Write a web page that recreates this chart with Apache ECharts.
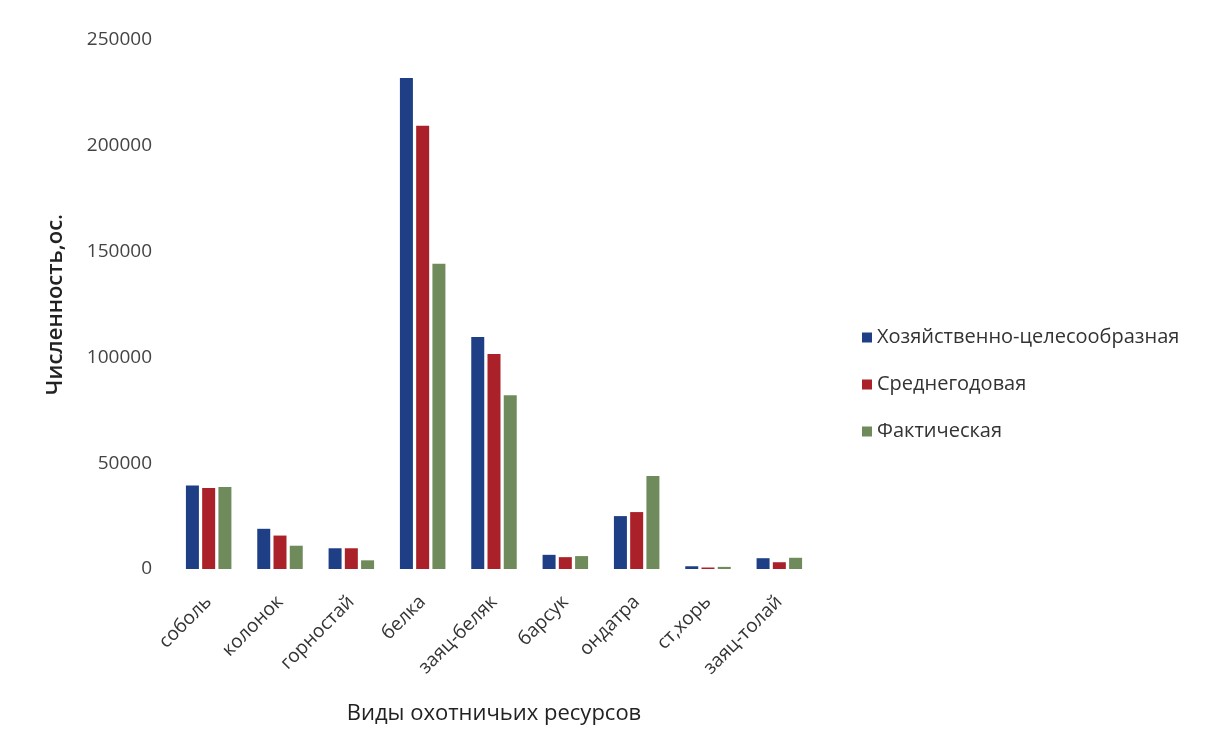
<!DOCTYPE html>
<html>
<head>
<meta charset="utf-8">
<script src="https://cdn.jsdelivr.net/npm/echarts@6/dist/echarts.min.js"></script>
<style>
  html, body { margin: 0; padding: 0; background: #ffffff; }
  #chart { width: 1228px; height: 729px; }
</style>
</head>
<body>
<div id="chart"></div>
<script>
// Виды охотничьих ресурсов и их численность (особей)
const categories = ['соболь', 'колонок', 'горностай', 'белка', 'заяц-беляк', 'барсук', 'ондатра', 'ст,хорь', 'заяц-толай'];
const seriesNames = ['Хозяйственно-целесообразная', 'Среднегодовая', 'Фактическая'];
const valuesTarget = [39500, 19000, 9800, 232000, 109600, 6700, 25000, 1300, 5100];
const valuesAverage = [38300, 15800, 9800, 209500, 101600, 5600, 26900, 700, 3200];
const valuesActual = [38700, 11000, 4100, 144300, 82100, 6100, 44000, 1000, 5300];
const yTicks = [0, 50000, 100000, 150000, 200000, 250000];

const colors = ['#1e3f86', '#ab2129', '#6f8b5b'];
const font = '"Open Sans", "Noto Sans", sans-serif';

const chart = echarts.init(document.getElementById('chart'), null, { renderer: 'canvas' });

const seriesData = [valuesTarget, valuesAverage, valuesActual];

chart.setOption({
  animation: false,
  backgroundColor: '#ffffff',
  color: colors,
  textStyle: { fontFamily: font },
  grid: { left: 173, right: 413, top: 40, bottom: 160, containLabel: false, outerBoundsMode: 'none' },
  legend: {
    orient: 'vertical',
    left: 857,
    top: 319,
    itemWidth: 10,
    itemHeight: 10,
    itemGap: 20,
    icon: 'rect',
    textStyle: { fontFamily: font, fontSize: 20, color: '#333333', lineHeight: 27 },
    data: seriesNames
  },
  xAxis: {
    type: 'category',
    data: categories,
    axisLine: { show: false },
    axisTick: { show: false },
    axisLabel: {
      rotate: 45,
      margin: 30,
      fontFamily: font,
      fontSize: 19,
      color: '#333333'
    },
    name: 'Виды охотничьих ресурсов',
    nameLocation: 'middle',
    nameGap: 134,
    nameTextStyle: { fontFamily: font, fontSize: 22, color: '#222222' }
  },
  yAxis: {
    type: 'value',
    min: yTicks[0],
    max: yTicks[yTicks.length - 1],
    interval: yTicks[1] - yTicks[0],
    axisLine: { show: false },
    axisTick: { show: false },
    splitLine: { show: false },
    axisLabel: {
      margin: 21,
      fontFamily: font,
      fontSize: 19,
      color: '#444444',
      formatter: (v) => String(v)
    },
    name: 'Численность,ос.',
    nameLocation: 'middle',
    nameGap: 106,
    nameRotate: 90,
    nameTextStyle: { fontFamily: font, fontSize: 22, fontWeight: 600, color: '#222222' }
  },
  series: seriesNames.map((name, i) => ({
    name: name,
    type: 'bar',
    data: seriesData[i],
    barWidth: 13,
    barGap: '25%',
    barCategoryGap: '37%',
    itemStyle: { color: colors[i] }
  }))
});
</script>
</body>
</html>
